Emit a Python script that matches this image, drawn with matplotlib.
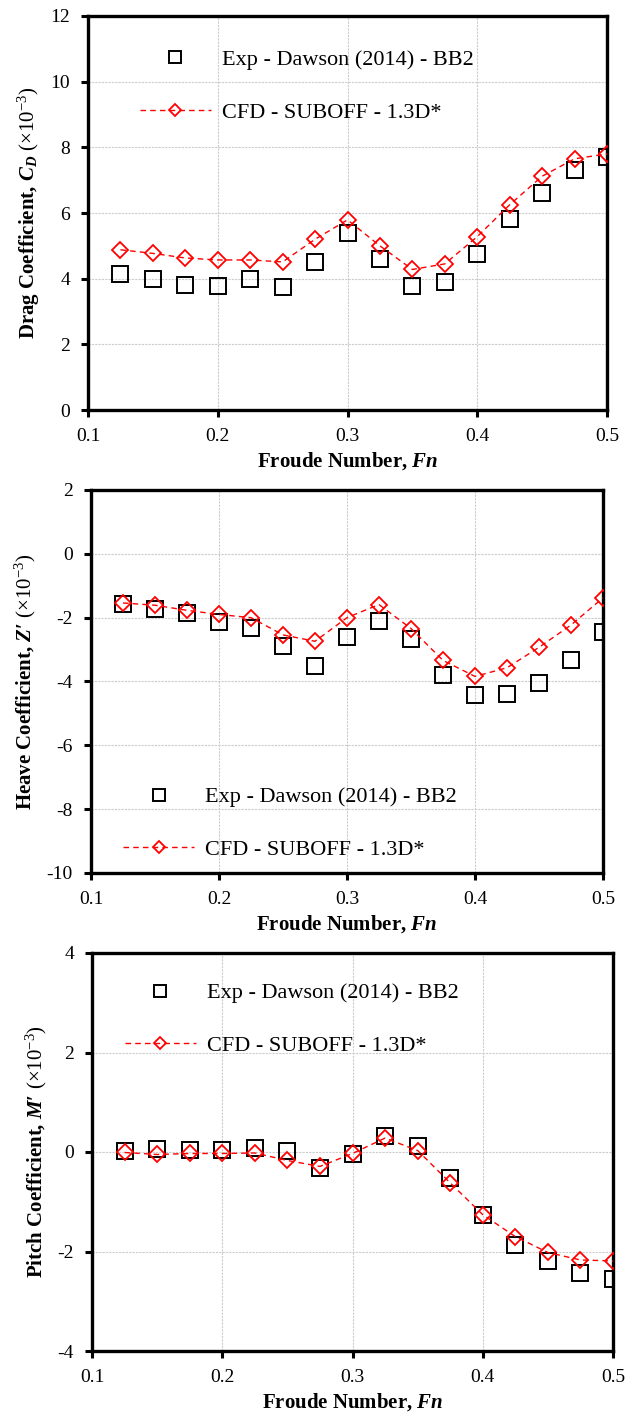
import matplotlib.pyplot as plt

plt.rcParams["font.family"] = "Liberation Serif"
plt.rcParams["mathtext.fontset"] = "custom"
plt.rcParams["mathtext.rm"] = "Liberation Serif"
plt.rcParams["mathtext.it"] = "Liberation Serif:italic:bold"
plt.rcParams["mathtext.bf"] = "Liberation Serif:bold"
plt.rcParams["axes.unicode_minus"] = False

fn = [0.125, 0.15, 0.175, 0.2, 0.225, 0.25, 0.275, 0.3,
      0.325, 0.35, 0.375, 0.4, 0.425, 0.45, 0.475, 0.5]

# drag coefficient (x1e-3)
cd_exp = [4.13, 4.00, 3.80, 3.78, 3.98, 3.76, 4.51, 5.38,
          4.61, 3.78, 3.90, 4.75, 5.83, 6.62, 7.30, 7.72]
cd_cfd = [4.88, 4.77, 4.63, 4.57, 4.57, 4.51, 5.20, 5.79,
          5.00, 4.28, 4.45, 5.28, 6.25, 7.12, 7.65, 7.80]

# heave coefficient (x1e-3)
z_exp = [-1.57, -1.72, -1.85, -2.14, -2.31, -2.88, -3.53, -2.60,
         -2.10, -2.68, -3.79, -4.43, -4.40, -4.04, -3.32, -2.46]
z_cfd = [-1.54, -1.61, -1.77, -1.90, -2.00, -2.54, -2.74, -2.00,
         -1.59, -2.34, -3.34, -3.84, -3.57, -2.93, -2.23, -1.38]

# pitch coefficient (x1e-3)
m_exp = [0.03, 0.07, 0.04, 0.04, 0.08, 0.03, -0.32, -0.05,
         0.32, 0.13, -0.52, -1.27, -1.86, -2.20, -2.44, -2.56]
m_cfd = [-0.01, -0.05, -0.03, -0.03, -0.02, -0.17, -0.29, -0.03,
         0.28, 0.03, -0.62, -1.26, -1.70, -2.02, -2.17, -2.19]

W, H = 630, 1420
fig = plt.figure(figsize=(W / 100, H / 100), dpi=100)


def box(left, top, right, bottom):
    return [left / W, 1 - bottom / H, (right - left) / W, (bottom - top) / H]


scale = r" $\mathrm{(\times10^{-3})}$"
panels = [
    dict(rect=box(88, 16, 607, 410), exp=cd_exp, cfd=cd_cfd, ylim=(0, 12),
         ylabel=r"Drag Coefficient, $C_D$" + scale, leg=(0.10, 0.915)),
    dict(rect=box(91, 490, 603, 873), exp=z_exp, cfd=z_cfd, ylim=(-10, 2),
         ylabel=r"Heave Coefficient, $Z$′" + scale, leg=(0.063, 0.225)),
    dict(rect=box(92, 953, 613, 1351), exp=m_exp, cfd=m_cfd, ylim=(-4, 4),
         ylabel=r"Pitch Coefficient, $M$′" + scale, leg=(0.063, 0.925)),
]

for p in panels:
    ax = fig.add_axes(p["rect"])
    ax.plot(fn, p["exp"], linestyle="none", marker="s", ms=11, mfc="none",
            mec="black", mew=1.4, label="Exp - Dawson (2014) - BB2", zorder=3)
    ax.plot(fn, p["cfd"], linestyle="--", color="red", lw=1.0, marker="D", ms=8,
            mfc="none", mec="red", mew=1.3, dashes=(4, 3),
            label="CFD - SUBOFF - 1.3D*", zorder=4)

    ax.set_xlim(0.1, 0.5)
    ax.set_ylim(*p["ylim"])
    ax.set_xticks([0.1, 0.2, 0.3, 0.4, 0.5])
    ax.set_xticklabels(["0.1", "0.2", "0.3", "0.4", "0.5"])
    lo, hi = p["ylim"]
    ax.set_yticks(range(lo, hi + 1, 2))
    ax.grid(True, color="#cccccc", linestyle=(0, (2, 1)), linewidth=0.8)
    ax.set_axisbelow(True)
    for s in ax.spines.values():
        s.set_linewidth(2.4)
    ax.tick_params(direction="out", length=5, width=2.2, labelsize=14, pad=8)

    ax.set_xlabel(r"Froude Number, $Fn$", fontsize=15, fontweight="bold", labelpad=4)
    ax.set_ylabel(p["ylabel"], fontsize=15, fontweight="bold", labelpad=6)

    ax.legend(loc="upper left", bbox_to_anchor=p["leg"], frameon=False,
              fontsize=16, handlelength=3.2, handletextpad=0.5, markerscale=0.75,
              labelspacing=1.45, borderaxespad=0, borderpad=0)

fig.savefig("out.png", dpi=100)
